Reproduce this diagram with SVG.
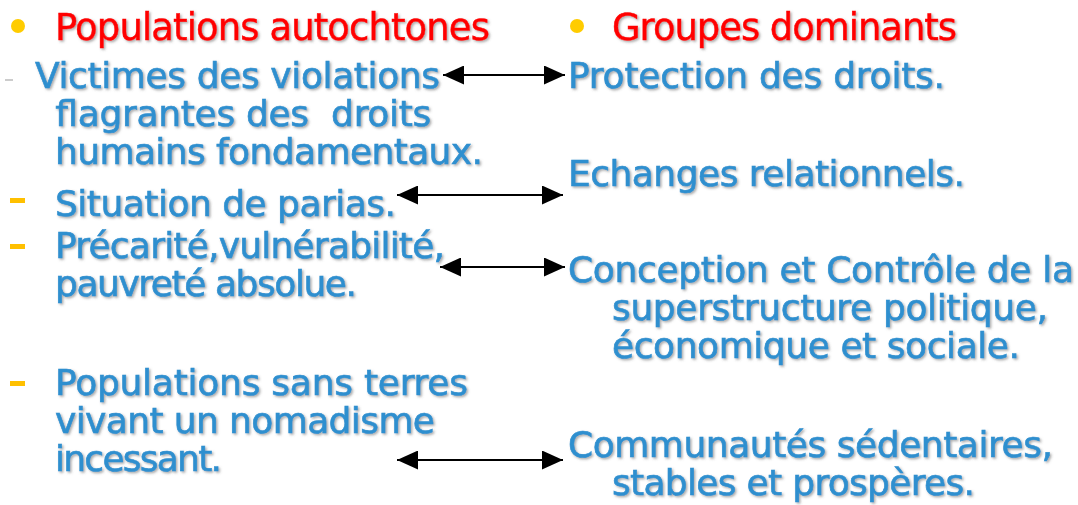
<svg xmlns="http://www.w3.org/2000/svg" width="1078" height="505" viewBox="0 0 1078 505">
<defs>
<filter id="sh" x="-5%" y="-20%" width="110%" height="140%">
<feDropShadow dx="1.5" dy="1.5" stdDeviation="1.2" flood-color="#555" flood-opacity="0.5"/>
</filter>
<marker id="ah" viewBox="0 0 21 19" refX="21" refY="9.5" markerWidth="21" markerHeight="19" markerUnits="userSpaceOnUse" orient="auto-start-reverse">
<path d="M0,0 L21,9.5 L0,19 Z" fill="#000"/>
</marker>
</defs>
<style>
text{font-family:"DejaVu Sans",Verdana,sans-serif;}
.h{fill:#FF0000;stroke:#FF0000;stroke-width:0.5;font-size:37px;filter:url(#sh);}
.b{fill:#2F8FCF;stroke:#2F8FCF;stroke-width:0.6;font-size:36px;filter:url(#sh);}
.dash{fill:#FFC000;}
.bul{fill:#FFCC00;}
.con line{stroke:#000;stroke-width:2;marker-start:url(#ah);marker-end:url(#ah);}
</style>
<rect width="1078" height="505" fill="#fff"/>
<g id="left-header">
<circle class="bul" cx="18" cy="26" r="7"/>
<text class="h" x="55" y="40" textLength="435">Populations autochtones</text>
</g>
<g id="right-header">
<circle class="bul" cx="577" cy="26" r="7"/>
<text class="h" x="612" y="40" textLength="345">Groupes dominants</text>
</g>
<g id="l1">
<rect x="5" y="79" width="8" height="2" fill="#ccc"/>
<text class="b" x="35" y="88" textLength="405">Victimes des violations</text>
<text class="b" x="55" y="126" textLength="376" xml:space="preserve">flagrantes des  droits</text>
<text class="b" x="55" y="164" textLength="428">humains fondamentaux.</text>
</g>
<g id="l2">
<rect class="dash" x="10" y="198" width="15" height="5"/>
<text class="b" x="55" y="216" textLength="341">Situation de parias.</text>
</g>
<g id="l3">
<rect class="dash" x="10" y="244" width="15" height="5"/>
<text class="b" x="55" y="258" textLength="390">Précarité,vulnérabilité,</text>
<text class="b" x="55" y="296" textLength="302">pauvreté absolue.</text>
</g>
<g id="l4">
<rect class="dash" x="10" y="381" width="15" height="5"/>
<text class="b" x="55" y="395" textLength="413">Populations sans terres</text>
<text class="b" x="55" y="433" textLength="380">vivant un nomadisme</text>
<text class="b" x="55" y="471" textLength="167">incessant.</text>
</g>
<g id="r1">
<text class="b" x="568" y="88" textLength="377">Protection des droits.</text>
</g>
<g id="r2">
<text class="b" x="568" y="186" textLength="397">Echanges relationnels.</text>
</g>
<g id="r3">
<text class="b" x="568" y="282" textLength="506">Conception et Contrôle de la</text>
<text class="b" x="612" y="320" textLength="436">superstructure politique,</text>
<text class="b" x="612" y="358" textLength="408">économique et sociale.</text>
</g>
<g id="r4">
<text class="b" x="568" y="457" textLength="485">Communautés sédentaires,</text>
<text class="b" x="612" y="495" textLength="363">stables et prospères.</text>
</g>
<g class="con" id="connectors">
<line x1="443" y1="75" x2="565" y2="75"/>
<line x1="397" y1="195" x2="563" y2="195"/>
<line x1="440" y1="267" x2="565" y2="267"/>
<line x1="397" y1="460" x2="563" y2="460"/>
</g>
</svg>
